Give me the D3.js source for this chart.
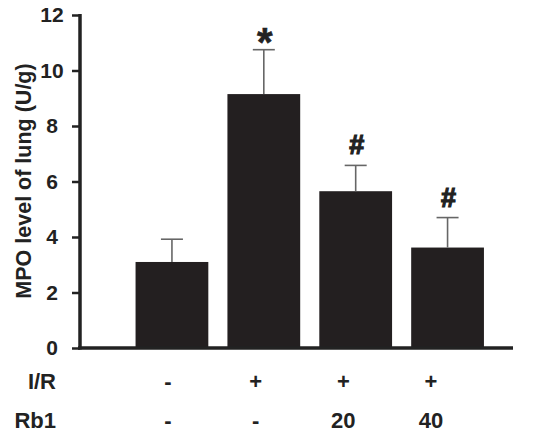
<!DOCTYPE html>
<html>
<head>
<meta charset="utf-8">
<script src="https://cdn.jsdelivr.net/npm/d3@7"></script>
<style>
  body { margin: 0; background: #fff; }
  text { font-family: "Liberation Sans", Arial, sans-serif; font-weight: bold; fill: #222; }
</style>
</head>
<body>
<div id="chart"></div>
<script>
// values
var groups = ["ctrl", "ir", "ir20", "ir40"];
var means = [3.1, 9.15, 5.65, 3.62];
var errors = [0.82, 1.6, 0.93, 1.08];
var marks = ["", "*", "#", "#"];
var irRow = ["-", "+", "+", "+"];
var rb1Row = ["-", "-", "20", "40"];
var yTicks = [0, 2, 4, 6, 8, 10, 12];

var W = 550, H = 435;

var svg = d3.select("#chart")
  .append("svg")
    .attr("width", W)
    .attr("height", H);

// scales
var x = d3.scaleBand()
  .domain(groups)
  .range([126, 493.5])
  .paddingInner(0.208)
  .paddingOuter(0.104);

var y = d3.scaleLinear()
  .domain([0, 12])
  .range([348, 15]);

// label positions under the bars
var xLab = d3.scalePoint()
  .domain(groups)
  .range([168, 431]);

// bars
svg.selectAll("rect.bar")
  .data(groups)
  .enter()
  .append("rect")
    .attr("class", "bar")
    .attr("x", function(d) { return x(d); })
    .attr("y", function(d, i) { return y(means[i]); })
    .attr("width", x.bandwidth())
    .attr("height", function(d, i) { return y(0) - y(means[i]); })
    .attr("fill", "#231f20");

// error bars (upper only)
var eb = svg.selectAll("g.err")
  .data(groups)
  .enter()
  .append("g")
    .attr("class", "err")
    .attr("stroke", "#666")
    .attr("stroke-width", 1.6);

eb.append("line")
  .attr("x1", function(d) { return x(d) + x.bandwidth() / 2; })
  .attr("x2", function(d) { return x(d) + x.bandwidth() / 2; })
  .attr("y1", function(d, i) { return y(means[i]); })
  .attr("y2", function(d, i) { return y(means[i] + errors[i]); });

eb.append("line")
  .attr("x1", function(d) { return x(d) + x.bandwidth() / 2 - 11; })
  .attr("x2", function(d) { return x(d) + x.bandwidth() / 2 + 11; })
  .attr("y1", function(d, i) { return y(means[i] + errors[i]); })
  .attr("y2", function(d, i) { return y(means[i] + errors[i]); });

// significance marks
svg.selectAll("text.sig")
  .data(groups)
  .enter()
  .append("text")
    .attr("class", "sig")
    .attr("x", function(d) { return x(d) + x.bandwidth() / 2 + 1; })
    .attr("y", function(d, i) { return y(means[i] + errors[i]) + (marks[i] == "*" ? 6 : -11); })
    .attr("text-anchor", "middle")
    .attr("stroke", "#222")
    .attr("stroke-width", function(d, i) { return marks[i] == "*" ? 0.6 : 1.2; })
    .style("font-size", function(d, i) { return marks[i] == "*" ? "40px" : "27px"; })
    .text(function(d, i) { return marks[i]; });

// Y axis
var yAxis = svg.append("g")
  .attr("transform", "translate(80,0)")
  .call(d3.axisLeft(y).tickValues(yTicks).tickSize(8).tickPadding(0).tickFormat(d3.format("d")));

yAxis.select(".domain")
  .attr("d", "M0," + (y(12) - 1) + "V" + (y(0) + 1.5))
  .attr("stroke", "#222")
  .attr("stroke-width", 3.5);
yAxis.selectAll(".tick line")
  .attr("stroke", "#222")
  .attr("stroke-width", 2.5);
yAxis.selectAll(".tick text")
  .attr("x", -28)
  .attr("text-anchor", "middle")
  .style("font-size", "21px")
  .attr("fill", "#222");

// X axis line
svg.append("line")
  .attr("x1", 78)
  .attr("x2", 513)
  .attr("y1", y(0))
  .attr("y2", y(0))
  .attr("stroke", "#222")
  .attr("stroke-width", 3.5);

// Y axis title
svg.append("text")
  .attr("transform", "translate(31,181) rotate(-90)")
  .attr("text-anchor", "middle")
  .style("font-size", "21.5px")
  .text("MPO level of lung (U/g)");

// treatment rows
var rows = [
  {name: "I/R", vals: irRow, y: 389},
  {name: "Rb1", vals: rb1Row, y: 428}
];

rows.forEach(function(r) {
  svg.append("text")
    .attr("x", 56)
    .attr("y", r.y)
    .attr("text-anchor", "end")
    .style("font-size", "22px")
    .text(r.name);

  svg.selectAll(null)
    .data(groups)
    .enter()
    .append("text")
      .attr("x", function(d) { return xLab(d); })
      .attr("y", r.y)
      .attr("text-anchor", "middle")
      .style("font-size", "22px")
      .text(function(d, i) { return r.vals[i]; });
});
</script>
</body>
</html>
